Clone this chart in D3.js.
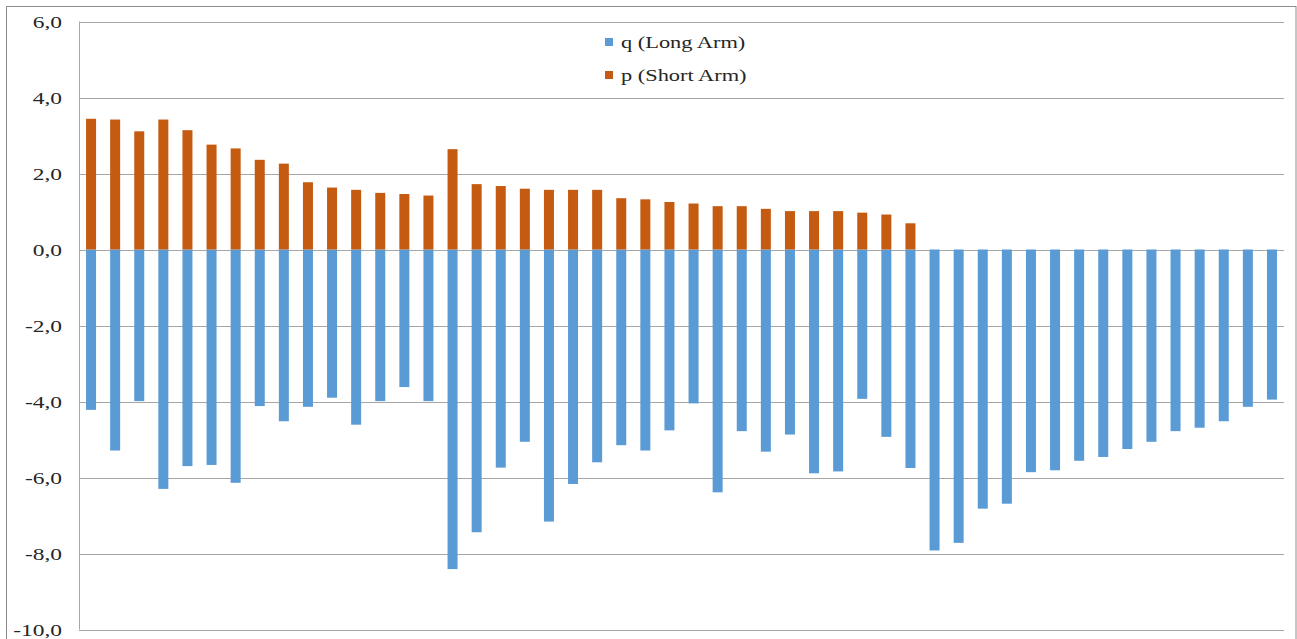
<!DOCTYPE html>
<html>
<head>
<meta charset="utf-8">
<script src="https://cdn.jsdelivr.net/npm/d3@7"></script>
<style>
  html, body { margin: 0; padding: 0; background: #fff; }
  svg { display: block; }
</style>
</head>
<body>
<svg id="chart" width="1297" height="639"></svg>
<script>
// Chromosome positions 1..50
const categories = d3.range(1, 51).map(String);

// Short arm (p) lengths, positive side; the last 15 positions have none
const pArm = [3.44, 3.42, 3.11, 3.42, 3.14, 2.76, 2.66, 2.36, 2.26, 1.77,
              1.63, 1.57, 1.49, 1.46, 1.42, 2.64, 1.72, 1.67, 1.60, 1.57,
              1.57, 1.57, 1.35, 1.32, 1.25, 1.21, 1.14, 1.14, 1.07, 1.01,
              1.01, 1.01, 0.97, 0.92, 0.69, 0, 0, 0, 0, 0,
              0, 0, 0, 0, 0, 0, 0, 0, 0, 0];

// Long arm (q) lengths, drawn below zero
const qArm = [-4.22, -5.29, -3.99, -6.30, -5.70, -5.67, -6.14, -4.12, -4.52, -4.14,
              -3.90, -4.61, -3.99, -3.62, -3.99, -8.41, -7.44, -5.74, -5.06, -7.16,
              -6.17, -5.60, -5.15, -5.29, -4.76, -4.05, -6.39, -4.78, -5.32, -4.87,
              -5.89, -5.84, -3.93, -4.93, -5.75, -7.92, -7.72, -6.82, -6.69, -5.86,
              -5.81, -5.56, -5.46, -5.25, -5.06, -4.78, -4.69, -4.52, -4.14, -3.95];

const yTicks = [-10, -8, -6, -4, -2, 0, 2, 4, 6];

const seriesNames = ["q (Long Arm)", "p (Short Arm)"];
const seriesColors = ["#5B9BD5", "#C55A11"];

const FONT = "'Liberation Serif', 'DejaVu Serif', serif";

const svg = d3.select("#chart");

// outer frame
svg.append("rect")
  .attr("x", 6.5).attr("y", 6.5)
  .attr("width", 1289.5).attr("height", 640)
  .attr("fill", "none").attr("stroke", "#8c8c8c").attr("stroke-width", 1);

const plot = { left: 79, right: 1284, top: 21.5, bottom: 629.5 };

const x = d3.scaleBand()
  .domain(categories)
  .range([plot.left, plot.right])
  .paddingInner(0.585)
  .paddingOuter(0.2925);

const y = d3.scaleLinear()
  .domain([-10, 6])
  .range([plot.bottom, plot.top]);

// horizontal gridlines
svg.append("g")
  .selectAll("line")
  .data(yTicks)
  .join("line")
  .attr("x1", plot.left).attr("x2", plot.right)
  .attr("y1", d => Math.round(y(d)) + 0.5)
  .attr("y2", d => Math.round(y(d)) + 0.5)
  .attr("stroke", "#a6a6a6").attr("stroke-width", 1);

// y axis labels (comma decimals), horizontally widened serif
const fmt = d => d3.format(".1f")(d).replace(".", ",").replace("−", "-");
svg.append("g")
  .selectAll("text")
  .data(yTicks)
  .join("text")
  .attr("transform", d => `translate(62, ${y(d) + 6}) scale(1.38, 1)`)
  .attr("text-anchor", "end")
  .attr("font-family", FONT)
  .attr("font-size", 17)
  .attr("fill", "#262626")
  .text(fmt);

// bars
const barsG = svg.append("g");
barsG.selectAll("rect.q")
  .data(qArm)
  .join("rect")
  .attr("class", "q")
  .attr("x", (d, i) => x(categories[i]))
  .attr("width", x.bandwidth())
  .attr("y", y(0))
  .attr("height", d => y(d) - y(0))
  .attr("fill", seriesColors[0]);

barsG.selectAll("rect.p")
  .data(pArm)
  .join("rect")
  .attr("class", "p")
  .attr("x", (d, i) => x(categories[i]))
  .attr("width", x.bandwidth())
  .attr("y", d => y(d))
  .attr("height", d => y(0) - y(d))
  .attr("fill", seriesColors[1]);

// vertical axis line
svg.append("line")
  .attr("x1", plot.left + 0.5).attr("x2", plot.left + 0.5)
  .attr("y1", plot.top).attr("y2", plot.bottom)
  .attr("stroke", "#a6a6a6").attr("stroke-width", 1);

// legend
const legend = svg.append("g");
seriesNames.forEach((name, i) => {
  const cy = 42 + i * 33;
  legend.append("rect")
    .attr("x", 605).attr("y", cy - 4)
    .attr("width", 8).attr("height", 8)
    .attr("fill", seriesColors[i]);
  legend.append("text")
    .attr("transform", `translate(621, ${cy + 6}) scale(1.28, 1)`)
    .attr("font-family", FONT)
    .attr("font-size", 17.5)
    .attr("fill", "#262626")
    .text(name);
});
</script>
</body>
</html>
